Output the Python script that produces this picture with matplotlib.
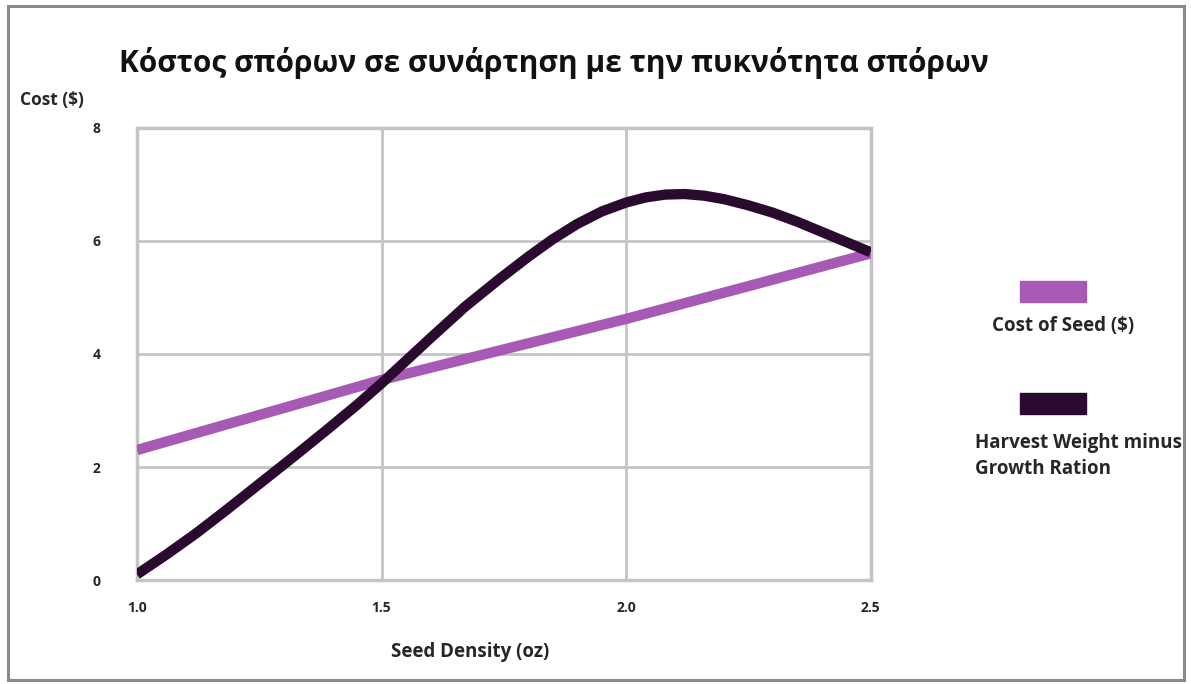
import matplotlib.pyplot as plt
from matplotlib.patches import Rectangle

plt.rcParams['font.family'] = ['Open Sans', 'DejaVu Sans']

title = 'Κόστος σπόρων σε συνάρτηση με την πυκνότητα σπόρων'

# seed cost, straight line
density = [1.0, 1.5, 2.0, 2.5]
seed_cost = [2.3, 3.54, 4.62, 5.78]

# harvest weight minus growth ration
harvest_x = [1.0, 1.06, 1.12, 1.18, 1.25, 1.32, 1.39, 1.45, 1.5, 1.55, 1.6,
             1.67, 1.74, 1.8, 1.85, 1.9, 1.95, 2.0, 2.04, 2.08, 2.12, 2.16,
             2.2, 2.25, 2.3, 2.35, 2.4, 2.45, 2.5]
harvest_y = [0.1, 0.45, 0.82, 1.22, 1.7, 2.18, 2.67, 3.1, 3.48, 3.88, 4.28,
             4.83, 5.32, 5.72, 6.03, 6.3, 6.52, 6.68, 6.77, 6.82, 6.83, 6.8,
             6.74, 6.63, 6.5, 6.34, 6.16, 5.98, 5.8]

x_ticks = [1.0, 1.5, 2.0, 2.5]
y_ticks = [0, 2, 4, 6, 8]

purple = '#a65ab3'
dark = '#2b0a30'
grid_col = '#c4c4c4'
text_col = '#262626'

fig = plt.figure(figsize=(11.91, 6.84), dpi=100)
ax = fig.add_axes([0.115, 0.152, 0.616, 0.661])

ax.plot(density, seed_cost, color=purple, lw=7.5, solid_capstyle='butt', zorder=3)
ax.plot(harvest_x, harvest_y, color=dark, lw=7.4, solid_capstyle='butt',
        solid_joinstyle='round', zorder=4)

ax.set_xlim(1.0, 2.5)
ax.set_ylim(0, 8)
ax.set_xticks(x_ticks)
ax.set_yticks(y_ticks)
ax.set_xticklabels([f'{t:.1f}' for t in x_ticks], fontsize=10, fontweight='bold', color=text_col)
ax.set_yticklabels([str(t) for t in y_ticks], fontsize=10, fontweight='bold', color=text_col)
ax.tick_params(axis='x', length=0, pad=15)
ax.tick_params(axis='y', length=0, pad=26)
ax.grid(True, color=grid_col, lw=2)
for s in ax.spines.values():
    s.set_color(grid_col)
    s.set_linewidth(2.5)

fig.text(470 / 1191, 1 - 652 / 684, 'Seed Density (oz)', fontsize=13.5, fontweight='bold',
         color=text_col, ha='center', va='center')
fig.text(0.1, 0.908, title, fontsize=21.5, fontweight='bold', color='#111111', va='center')
fig.text(0.017, 1 - 100 / 684, 'Cost ($)', fontsize=12.5, fontweight='bold', color=text_col,
         va='center')

# legend on the right
fig.patches.append(Rectangle((1020 / 1191, 1 - 302 / 684), 66 / 1191, 21 / 684,
                             transform=fig.transFigure, color=purple))
fig.text(1063 / 1191, 1 - 326 / 684, 'Cost of Seed ($)', fontsize=13.5, fontweight='bold',
         color=text_col, ha='center', va='center')
fig.patches.append(Rectangle((1020 / 1191, 1 - 414 / 684), 66 / 1191, 21 / 684,
                             transform=fig.transFigure, color=dark))
fig.text(975 / 1191, 1 - 456 / 684, 'Harvest Weight minus\nGrowth Ration', fontsize=13.5,
         fontweight='bold', color=text_col, ha='left', va='center', linespacing=1.45)

# outer frame
fig.patches.append(Rectangle((8 / 1191, 4 / 684), 1176 / 1191, 674 / 684,
                             transform=fig.transFigure, fill=False, ec='#8a8a8a', lw=2.2))

fig.savefig('out.png', dpi=100)
